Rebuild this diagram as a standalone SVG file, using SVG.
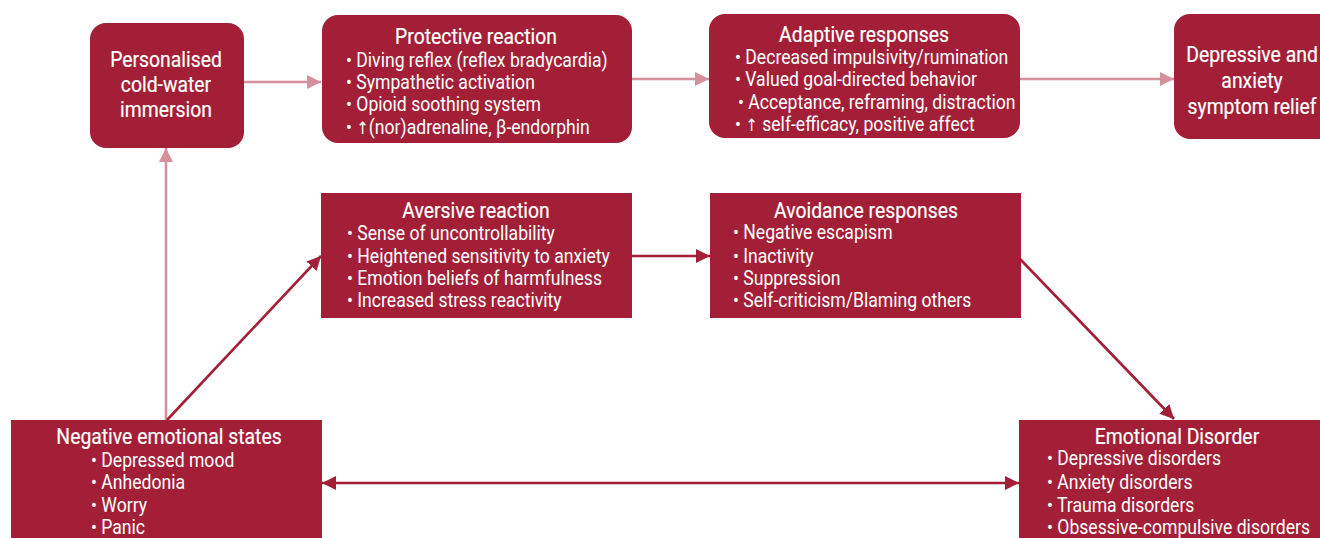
<svg xmlns="http://www.w3.org/2000/svg" width="1320" height="538" viewBox="0 0 1320 538">
<style>
.box{fill:#a31f37}
.t{font-family:Roboto,"Liberation Sans",sans-serif;font-size:20px;fill:#ffffff}
.h{text-anchor:middle;font-size:22px;stroke:#ffffff;stroke-width:0.2}
.ar{font-family:"DejaVu Sans",sans-serif;font-size:17px}
.pink{stroke:#d4909c;stroke-width:2.6;fill:none}
.dark{stroke:#a31f37;stroke-width:2.6;fill:none}
</style>
<defs>
<marker id="ap" markerUnits="userSpaceOnUse" markerWidth="16" markerHeight="16" refX="14" refY="7" orient="auto"><path d="M0,0 L14,7 L0,14 Z" fill="#d4909c"/></marker>
<marker id="ad" markerUnits="userSpaceOnUse" markerWidth="16" markerHeight="16" refX="14" refY="7" orient="auto-start-reverse"><path d="M0,0 L14,7 L0,14 Z" fill="#a31f37"/></marker>
</defs>
<rect width="1320" height="538" fill="#ffffff"/>
<g id="connectors">
<path class="pink" d="M244,82 L321,82" marker-end="url(#ap)"/>
<path class="pink" d="M632,79 L709,79" marker-end="url(#ap)"/>
<path class="pink" d="M1020,79 L1174,79" marker-end="url(#ap)"/>
<path class="pink" d="M166,420 L166,148" marker-end="url(#ap)"/>
<path class="dark" d="M167,420 L321,256" marker-end="url(#ad)"/>
<path class="dark" d="M632,256 L710,256" marker-end="url(#ad)"/>
<path class="dark" d="M1020,259 L1174,419" marker-end="url(#ad)"/>
<path class="dark" d="M322,483 L1019,483" marker-start="url(#ad)" marker-end="url(#ad)"/>
</g>
<g id="personalised">
<rect class="box" x="90" y="23" width="154" height="125" rx="16"/>
<text class="t h" transform="translate(166,67) scale(0.88,1)">Personalised</text>
<text class="t h" transform="translate(166,92) scale(0.88,1)">cold-water</text>
<text class="t h" transform="translate(166,117) scale(0.88,1)">immersion</text>
</g>
<g id="protective">
<rect class="box" x="322" y="15" width="310" height="128" rx="16"/>
<text class="t h" transform="translate(476,44) scale(0.88,1)">Protective reaction</text>
<text class="t" transform="translate(346,67) scale(0.88,1)">• Diving reflex (reflex bradycardia)</text>
<text class="t" transform="translate(346,89) scale(0.88,1)">• Sympathetic activation</text>
<text class="t" transform="translate(346,111) scale(0.88,1)">• Opioid soothing system</text>
<text class="t" transform="translate(346,134) scale(0.88,1)">• <tspan class="ar">↑</tspan>(nor)adrenaline, β-endorphin</text>
</g>
<g id="adaptive">
<rect class="box" x="709" y="14" width="311" height="124" rx="16"/>
<text class="t h" transform="translate(864,42) scale(0.88,1)">Adaptive responses</text>
<text class="t" transform="translate(735,64) scale(0.88,1)">• Decreased impulsivity/rumination</text>
<text class="t" transform="translate(735,86) scale(0.88,1)">• Valued goal-directed behavior</text>
<text class="t" transform="translate(738,109) scale(0.88,1)">• Acceptance, reframing, distraction</text>
<text class="t" transform="translate(735,131) scale(0.88,1)">• <tspan class="ar">↑</tspan> self-efficacy, positive affect</text>
</g>
<g id="relief">
<rect class="box" x="1174" y="14" width="170" height="125" rx="16"/>
<text class="t h" transform="translate(1252,62) scale(0.88,1)">Depressive and</text>
<text class="t h" transform="translate(1252,88) scale(0.88,1)">anxiety</text>
<text class="t h" transform="translate(1252,114) scale(0.88,1)">symptom relief</text>
</g>
<g id="aversive">
<rect class="box" x="321" y="193" width="311" height="125"/>
<text class="t h" transform="translate(476,218) scale(0.88,1)">Aversive reaction</text>
<text class="t" transform="translate(347,240) scale(0.88,1)">• Sense of uncontrollability</text>
<text class="t" transform="translate(347,263) scale(0.88,1)">• Heightened sensitivity to anxiety</text>
<text class="t" transform="translate(347,285) scale(0.88,1)">• Emotion beliefs of harmfulness</text>
<text class="t" transform="translate(347,307) scale(0.88,1)">• Increased stress reactivity</text>
</g>
<g id="avoidance">
<rect class="box" x="710" y="193" width="311" height="125"/>
<text class="t h" transform="translate(866,218) scale(0.88,1)">Avoidance responses</text>
<text class="t" transform="translate(733,239) scale(0.88,1)">• Negative escapism</text>
<text class="t" transform="translate(733,263) scale(0.88,1)">• Inactivity</text>
<text class="t" transform="translate(733,285) scale(0.88,1)">• Suppression</text>
<text class="t" transform="translate(733,307) scale(0.88,1)">• Self-criticism/Blaming others</text>
</g>
<g id="negative">
<rect class="box" x="11" y="420" width="311" height="125"/>
<text class="t h" transform="translate(169,444) scale(0.88,1)">Negative emotional states</text>
<text class="t" transform="translate(91,467) scale(0.88,1)">• Depressed mood</text>
<text class="t" transform="translate(91,489) scale(0.88,1)">• Anhedonia</text>
<text class="t" transform="translate(91,512) scale(0.88,1)">• Worry</text>
<text class="t" transform="translate(91,534) scale(0.88,1)">• Panic</text>
</g>
<g id="disorder">
<rect class="box" x="1019" y="420" width="311" height="125"/>
<text class="t h" transform="translate(1177,444) scale(0.88,1)">Emotional Disorder</text>
<text class="t" transform="translate(1047,465) scale(0.88,1)">• Depressive disorders</text>
<text class="t" transform="translate(1047,489) scale(0.88,1)">• Anxiety disorders</text>
<text class="t" transform="translate(1047,512) scale(0.88,1)">• Trauma disorders</text>
<text class="t" transform="translate(1047,534) scale(0.88,1)">• Obsessive-compulsive disorders</text>
</g>
</svg>
